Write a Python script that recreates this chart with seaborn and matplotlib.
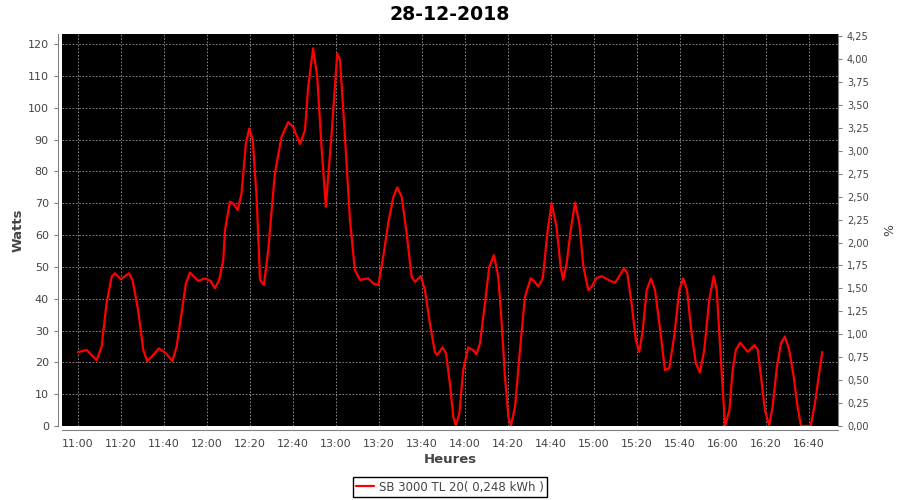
import pandas as pd
import matplotlib
matplotlib.use("Agg")
import matplotlib.pyplot as plt
import matplotlib.dates as mdates
from matplotlib.ticker import FuncFormatter, MultipleLocator
import seaborn as sns

# minutes after 11:00 and power readings (W)
minutes = [0, 4.0, 8.7, 11.0, 13.3, 15.7, 17.2, 20.0, 23.7, 25.4, 28.0, 30.4, 32.2, 34.3,
           37.7, 41.0, 43.9, 45.9, 48.2, 50.2, 52.1, 56.0, 59.0, 61.7, 63.7, 65.7, 67.6,
           68.4, 70.7, 72.2, 74.3, 76.1, 78.1, 79.7, 81.3, 83.1, 84.7, 86.5, 88.5, 89.3,
           91.6, 94.7, 97.8, 100.1, 103.3, 105.6, 107.1, 109.4, 111.3, 113.3, 115.3, 118.0,
           120.6, 121.9, 124.2, 126.5, 128.8, 131.2, 135.0, 137.4, 139.7, 142.0, 144.3,
           146.7, 148.5, 150.6, 152.9, 155.2, 156.7, 159.5, 161.4, 163.7, 166.0, 167.1,
           169.6, 171.2, 173.0, 174.6, 175.8, 177.4, 179.2, 181.5, 183.6, 185.4, 187.0,
           189.3, 191.3, 193.5, 195.5, 197.1, 198.6, 200.2, 201.4, 203.3, 205.6, 207.9,
           210.6, 212.1, 214.1, 216.2, 218.3, 220.3, 222.6, 224.5, 225.7, 227.3, 229.2,
           231.2, 233.2, 235.1, 237.4, 239.0, 241.0, 243.6, 246.7, 249.8, 252.1, 254.0,
           255.5, 257.5, 259.5, 261.1, 262.7, 264.5, 266.5, 268.4, 270.8, 273.0, 275.0,
           277.3, 279.7, 281.5, 283.3, 285.4, 287.4, 289.3, 291.3, 293.6, 295.7, 297.1,
           298.3, 299.9, 301.0, 303.0, 304.5, 306.0, 308.0, 311.5, 314.6, 316.2, 317.7,
           319.5, 321.5, 323.1, 325.1, 327.0, 328.8, 330.8, 332.9, 334.7, 336.3, 340.8,
           342.8, 344.3, 346.2]
watts = [23.2, 23.9, 20.7, 24.9, 38.5, 46.9, 48.0, 46.1, 48.0, 45.9, 36.4, 23.9, 20.4, 21.8,
         24.4, 22.8, 20.4, 24.9, 35.4, 44.8, 48.2, 45.6, 46.4, 45.6, 43.3, 45.9, 52.2,
         61.6, 70.5, 70.0, 67.9, 73.1, 88.8, 93.5, 89.9, 72.0, 45.9, 44.3, 55.3, 61.6,
         79.4, 90.9, 95.5, 94.0, 88.6, 93.0, 106.6, 118.7, 109.7, 87.7, 68.9, 92.0,
         117.1, 115.0, 90.9, 65.0, 49.0, 45.9, 46.4, 44.8, 44.3, 53.2, 63.7,
         72.0, 75.0, 72.0, 60.5, 46.9, 45.3, 47.1, 42.7, 32.3, 23.3, 22.3,
         24.7, 22.8, 13.4, 2.9, 0, 4.0, 17.6, 24.7, 23.9, 22.6, 26.0,
         38.5, 50.0, 53.7, 46.9, 32.3, 15.5, 2.9, 0, 6.1, 23.9, 40.6,
         46.4, 45.6, 43.8, 46.4, 60.5, 70.0, 62.6, 50.0, 45.9, 51.1, 61.6,
         70.2, 63.7, 50.0, 42.7, 43.8, 46.4, 47.1, 45.9, 45.0, 47.4, 49.5,
         48.0, 38.5, 27.0, 23.3, 30.2, 42.7, 46.4, 42.7, 30.2, 17.6, 18.1,
         28.1, 42.7, 46.4, 42.7, 29.1, 19.7, 16.8, 23.9, 39.6, 47.1, 42.7,
         29.1, 11.3, 0, 5.0, 17.6, 23.9, 26.2, 23.3, 25.4, 23.9, 15.5,
         5.0, 0.2, 6.1, 18.6, 26.0, 28.1, 23.9, 15.5, 6.1, 0, 0,
         7.1, 14.5, 23.3]

series_name = "SB 3000 TL 20( 0,248 kWh )"
start = pd.Timestamp("2018-12-28 11:00")

df = pd.DataFrame({
    "time": start + pd.to_timedelta(minutes, unit="min"),
    "watts": watts,
    "serie": series_name,
})

sns.set_style("white")
plt.rcParams["font.family"] = ["DejaVu Sans"]

fig = plt.figure(figsize=(9, 5), dpi=100)
ax = fig.add_axes([0.0689, 0.148, 0.8622, 0.784])
ax.set_facecolor("black")

sns.lineplot(data=df, x="time", y="watts", hue="serie", palette=["#ff0000"],
             linewidth=1.6, ax=ax, legend=False)

ax.set_xlim(start - pd.Timedelta(minutes=7.4), start + pd.Timedelta(minutes=353.5))
ax.set_ylim(0, 123.2)
ax.xaxis.set_major_locator(mdates.MinuteLocator(byminute=[0, 20, 40]))
ax.xaxis.set_major_formatter(mdates.DateFormatter("%H:%M"))
ax.yaxis.set_major_locator(MultipleLocator(10))

ax.grid(True, color="#9a9a9a", linestyle=(0, (2, 2)), linewidth=0.6)
txt = "#444444"
ax.tick_params(axis="both", colors="#808080", labelcolor=txt, labelsize=8,
               length=3, width=0.8, direction="out")
for side in ["left", "bottom"]:
    ax.spines[side].set_position(("outward", 3))
    ax.spines[side].set_color("#808080")
for side in ["top", "right"]:
    ax.spines[side].set_visible(False)

ax.set_xlabel("Heures", fontsize=9.5, fontweight="bold", color=txt, labelpad=3)
ax.set_ylabel("Watts", fontsize=9.5, fontweight="bold", color=txt, labelpad=2)
ax.set_title("28-12-2018", fontsize=13.6, fontweight="bold", color="black", pad=10)

# right axis in percent
ax2 = ax.twinx()
ax2.set_ylim(0, 4.273)
ax2.yaxis.set_major_locator(MultipleLocator(0.25))
ax2.yaxis.set_major_formatter(FuncFormatter(lambda v, p: f"{v:.2f}".replace(".", ",")))
ax2.tick_params(axis="y", colors="#808080", labelcolor=txt, labelsize=7,
                length=3, width=0.8)
for side in ["left", "bottom", "top"]:
    ax2.spines[side].set_visible(False)
ax2.spines["right"].set_color("#808080")
ax2.set_ylabel("%", fontsize=9, color=txt, labelpad=10)
ax2.grid(False)

handle = plt.Line2D([], [], color="#ff0000", linewidth=1.6)
fig.legend([handle], [series_name], loc="lower center", bbox_to_anchor=(0.5, -0.006),
           fontsize=8.5, frameon=True, fancybox=False, edgecolor="black",
           framealpha=1, handlelength=1.5, handletextpad=0.4, borderpad=0.3,
           labelcolor=txt)

fig.savefig("out.png", dpi=100)
